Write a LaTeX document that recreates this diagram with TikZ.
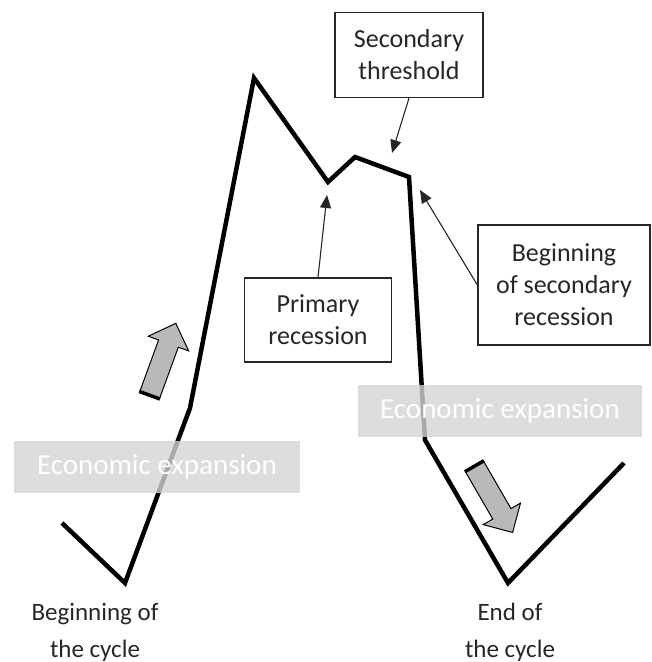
\documentclass[tikz,border=0pt]{standalone}
\usepackage{fontspec}
\setmainfont{Carlito}
\definecolor{inkgray}{RGB}{38, 38, 38}
\definecolor{bandgray}{RGB}{212, 212, 212}
\definecolor{arrowgray}{RGB}{185, 185, 185}
\usetikzlibrary{shapes.arrows, arrows.meta}

\begin{document}
\begin{tikzpicture}[x=1pt, y=-1pt,
  curve/.style={line width=4.5pt, line join=miter, black},
  labelbox/.style={draw=inkgray, line width=1.3pt, align=center, text=inkgray, font=\fontsize{26}{32}\selectfont, inner sep=4pt},
  bandbox/.style={fill=bandgray, fill opacity=0.8, text opacity=1, text=white, minimum width=286pt, minimum height=52pt, inner sep=0pt, font=\fontsize{29}{34}\selectfont},
  pointer/.style={-{Triangle[length=13pt, width=11pt]}, line width=1.1pt, inkgray},
  cyclearrow/.style={single arrow, draw=black, line width=1pt, fill=arrowgray, minimum height=76pt, inner sep=10pt, single arrow head extend=11pt},
  endlabel/.style={align=center, text=inkgray, font=\fontsize{25}{37}\selectfont}
]
  \useasboundingbox (0,0) rectangle (652,662);

  % the cycle
  \coordinate (start) at (62,523);
  \coordinate (low1) at (125,583);
  \coordinate (kink) at (190,408);
  \coordinate (peak) at (254,78);
  \coordinate (dip) at (328,182);
  \coordinate (bump) at (355,157);
  \coordinate (edge) at (409,177);
  \coordinate (drop) at (425,440);
  \coordinate (low2) at (508,583);
  \coordinate (finish) at (624,463);
  \draw[curve] (start) -- (low1) -- (kink) -- (peak) -- (dip) -- (bump) -- (edge) -- (drop) -- (low2) -- (finish);

  % expansion bands
  \node[bandbox] (bandleft) at (157,467) {Economic expansion};
  \node[bandbox, minimum width=284pt] (bandright) at (500,411) {Economic expansion};

  % direction arrows
  \node[cyclearrow, rotate=70] (uparrow) at (161,364) {};
  \draw[line width=3.5pt] (uparrow.before tail) -- (uparrow.after tail);
  \node[cyclearrow, rotate=-60] (downarrow) at (491,495) {};
  \draw[line width=3.5pt] (downarrow.before tail) -- (downarrow.after tail);

  % callouts
  \node[labelbox, minimum width=148pt, minimum height=85pt] (thrbox) at (409,55) {Secondary\\threshold};
  \node[labelbox, minimum width=147pt, minimum height=84pt] (primbox) at (318,320) {Primary\\recession};
  \node[labelbox, minimum width=172pt, minimum height=120pt] (recbox) at (564,285) {Beginning\\of secondary\\recession};
  \coordinate (thrtip) at (392,153);
  \coordinate (primtip) at (327,195);
  \coordinate (rectip) at (420,190);
  \draw[pointer] (thrbox.south) -- (thrtip);
  \draw[pointer] (primbox.north) -- (primtip);
  \draw[pointer] (recbox.west) -- (rectip);

  \node[endlabel] (begincycle) at (95,632) {Beginning of\\the cycle};
  \node[endlabel] (endcycle) at (510,632) {End of\\the cycle};
\end{tikzpicture}
\end{document}
